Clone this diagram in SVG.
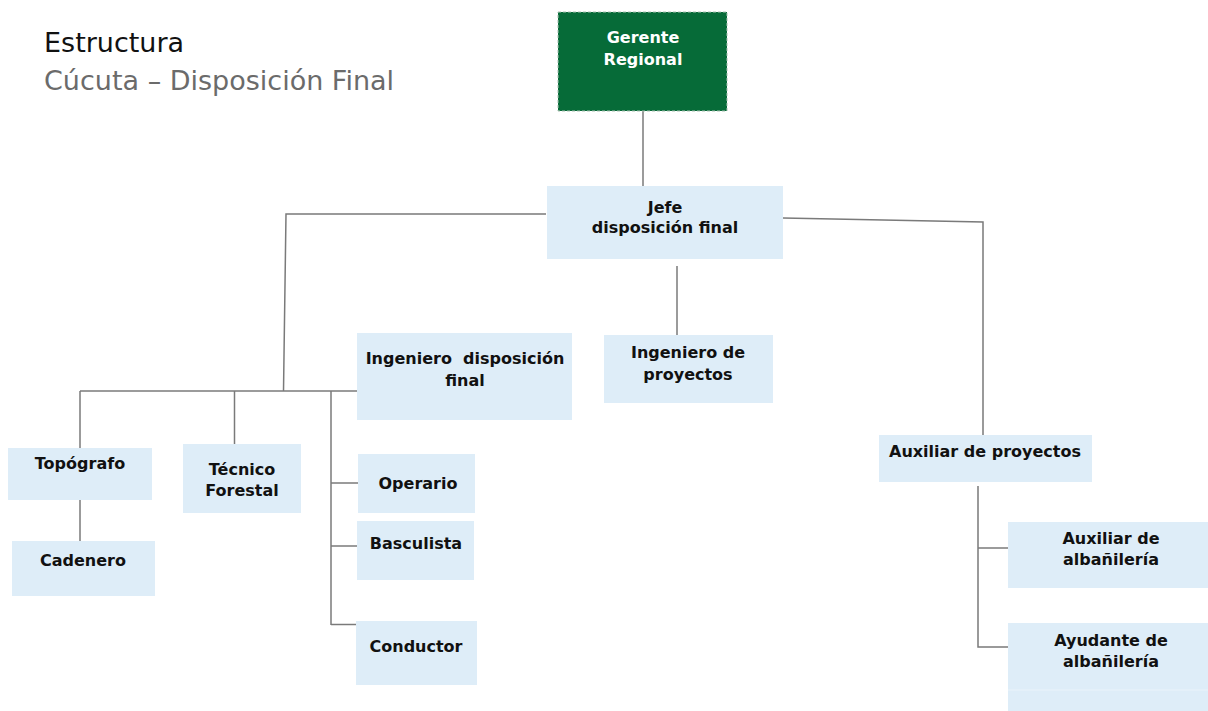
<svg xmlns="http://www.w3.org/2000/svg" width="1208" height="711" viewBox="0 0 1208 711">
<style>
.box{fill:#deedf8;}
.t{font-family:"DejaVu Sans",Verdana,sans-serif;font-weight:bold;font-size:16px;fill:#111;text-anchor:middle;}
.w{fill:#ffffff;}
.c{stroke:#7a7a7a;stroke-width:1.5;fill:none;}
.h{font-family:"DejaVu Sans",Verdana,sans-serif;font-size:27px;}
</style>
<rect width="1208" height="711" fill="#ffffff"/>
<text class="h" x="44" y="52" fill="#111">Estructura</text>
<text class="h" x="44" y="90" fill="#6b6b6b">Cúcuta – Disposición Final</text>
<g id="connectors">
<path class="c" d="M643,111 V186"/>
<path class="c" d="M546,214 H286 L283.5,391"/>
<path class="c" d="M80,391 H357"/>
<path class="c" d="M80,391 V448"/>
<path class="c" d="M80,500 V541"/>
<path class="c" d="M234.5,391 V444"/>
<path class="c" d="M331,391 V625"/>
<path class="c" d="M331,483 H359"/>
<path class="c" d="M331,546 H358"/>
<path class="c" d="M331,624.5 H360"/>
<path class="c" d="M677,266 V335"/>
<path class="c" d="M783,218 L983,222 V435"/>
<path class="c" d="M978,486 V647 H1008"/>
<path class="c" d="M978,548 H1008"/>
</g>
<g id="gerente">
<rect x="558" y="12" width="169" height="99" fill="#066b38" stroke="#a9c2b2" stroke-width="1" stroke-dasharray="3,2"/>
<text class="t w" x="643" y="43">Gerente</text>
<text class="t w" x="643" y="65">Regional</text>
</g>
<g id="jefe">
<rect class="box" x="547" y="186" width="236" height="73"/>
<text class="t" x="665" y="213">Jefe</text>
<text class="t" x="665" y="233">disposición final</text>
</g>
<g id="ingeniero-disposicion">
<rect class="box" x="357" y="333" width="215" height="87"/>
<text class="t" x="465" y="364" xml:space="preserve">Ingeniero  disposición</text>
<text class="t" x="465" y="386">final</text>
</g>
<g id="ingeniero-proyectos">
<rect class="box" x="604" y="335" width="169" height="68"/>
<text class="t" x="688" y="358">Ingeniero de</text>
<text class="t" x="688" y="380">proyectos</text>
</g>
<g id="topografo">
<rect class="box" x="8" y="448" width="144" height="52"/>
<text class="t" x="80" y="469">Topógrafo</text>
</g>
<g id="cadenero">
<rect class="box" x="12" y="541" width="143" height="55"/>
<text class="t" x="83" y="566">Cadenero</text>
</g>
<g id="tecnico">
<rect class="box" x="183" y="444" width="118" height="69"/>
<text class="t" x="242" y="475">Técnico</text>
<text class="t" x="242" y="496">Forestal</text>
</g>
<g id="operario">
<rect class="box" x="358" y="454" width="117" height="59"/>
<text class="t" x="418" y="489">Operario</text>
</g>
<g id="basculista">
<rect class="box" x="357" y="521" width="117" height="59"/>
<text class="t" x="416" y="549">Basculista</text>
</g>
<g id="conductor">
<rect class="box" x="356" y="621" width="121" height="64"/>
<text class="t" x="416" y="652">Conductor</text>
</g>
<g id="auxiliar-proyectos">
<rect class="box" x="879" y="435" width="213" height="47"/>
<text class="t" x="985" y="457">Auxiliar de proyectos</text>
</g>
<g id="auxiliar-albanileria">
<rect class="box" x="1008" y="522" width="200" height="66"/>
<text class="t" x="1111" y="544">Auxiliar de</text>
<text class="t" x="1111" y="565">albañilería</text>
</g>
<g id="ayudante-albanileria">
<rect class="box" x="1008" y="623" width="200" height="88"/>
<line x1="1008" y1="690" x2="1208" y2="690" stroke="#eaf3fa" stroke-width="1"/>
<text class="t" x="1111" y="646">Ayudante de</text>
<text class="t" x="1111" y="667">albañilería</text>
</g>
</svg>
